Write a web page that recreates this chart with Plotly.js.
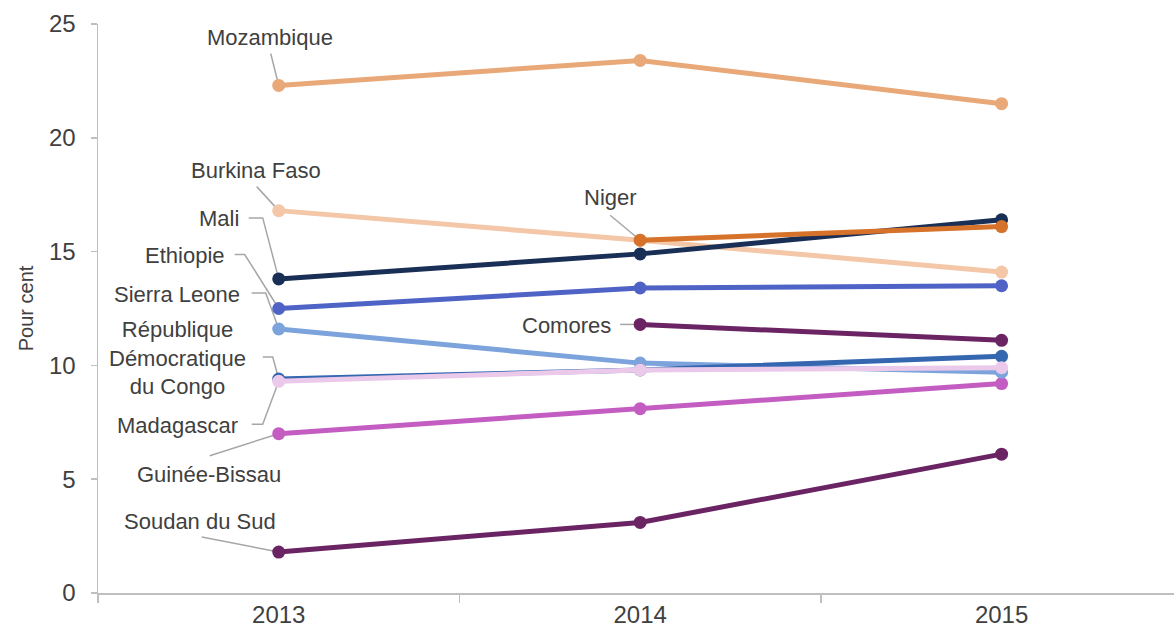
<!DOCTYPE html>
<html>
<head>
<meta charset="utf-8">
<script src="https://cdn.plot.ly/plotly-3.0.1.min.js"></script>
<style>html,body{margin:0;padding:0;background:#fff;}#chart{width:1174px;height:633px;}</style>
</head>
<body>
<div id="chart"></div>
<script>
const years = ["2013", "2014", "2015"];

const mozambique = [22.3, 23.4, 21.5];
const burkinaFaso = [16.8, 15.5, 14.1];
const mali = [13.8, 14.9, 16.4];
const niger = [null, 15.5, 16.1];
const ethiopie = [12.5, 13.4, 13.5];
const sierraLeone = [11.6, 10.1, 9.7];
const comores = [null, 11.8, 11.1];
const rdc = [9.4, 9.8, 10.4];
const madagascar = [9.3, 9.8, 9.9];
const guineeBissau = [7.0, 8.1, 9.2];
const soudanDuSud = [1.8, 3.1, 6.1];

const yTicks = [0, 5, 10, 15, 20, 25];

// drawing order (bottom to top)
const series = [
  {name: "Soudan du Sud", y: soudanDuSud, color: "#6B2463"},
  {name: "Guinée-Bissau", y: guineeBissau, color: "#C45DC2"},
  {name: "Comores", y: comores, color: "#6B2463"},
  {name: "Sierra Leone", y: sierraLeone, color: "#7CA3DB"},
  {name: "République Démocratique du Congo", y: rdc, color: "#3566B0"},
  {name: "Madagascar", y: madagascar, color: "#EBC9EA"},
  {name: "Ethiopie", y: ethiopie, color: "#4F63C6"},
  {name: "Burkina Faso", y: burkinaFaso, color: "#F3C7A7"},
  {name: "Mali", y: mali, color: "#1A2F55"},
  {name: "Niger", y: niger, color: "#D6722A"},
  {name: "Mozambique", y: mozambique, color: "#E8A878"}
];

const traces = series.map(s => ({
  type: "scatter",
  mode: "lines+markers",
  x: years,
  y: s.y,
  name: s.name,
  line: {color: s.color, width: 5},
  marker: {color: s.color, size: 13},
  connectgaps: false,
  hoverinfo: "x+y+name"
}));

// label placement: text offset (px) from the labelled point, and leader path (px, y up) relative to the point
const labels = [
  {text: "Mozambique", data: mozambique, idx: 0, dx: -9, dy: 48, path: [[-8, 32], [0, 0]]},
  {text: "Burkina Faso", data: burkinaFaso, idx: 0, dx: -23, dy: 40, path: [[-22, 24], [0, 0]]},
  {text: "Mali", data: mali, idx: 0, dx: -60, dy: 60, path: [[-30, 61], [-16, 61], [0, 0]]},
  {text: "Ethiopie", data: ethiopie, idx: 0, dx: -94, dy: 53, path: [[-44, 54], [-34, 54], [0, 0]]},
  {text: "Sierra Leone", data: sierraLeone, idx: 0, dx: -102, dy: 34, path: [[-27, 36], [-13, 36], [0, 0]]},
  {text: "République<br>Démocratique<br>du Congo", data: rdc, idx: 0, dx: -101, dy: 21, path: [[-16, 22], [-6, 22], [0, 0]]},
  {text: "Madagascar", data: madagascar, idx: 0, dx: -101, dy: -44, path: [[-27, -43], [-16, -43], [0, 0]]},
  {text: "Guinée-Bissau", data: guineeBissau, idx: 0, dx: -70, dy: -41, path: [[-69, -22], [0, 0]]},
  {text: "Soudan du Sud", data: soudanDuSud, idx: 0, dx: -79, dy: 31, path: [[-77, 15], [0, 0]]},
  {text: "Niger", data: niger, idx: 1, dx: -30, dy: 43, path: [[-30, 25], [0, 0]]},
  {text: "Comores", data: comores, idx: 1, dx: -74, dy: -1, path: [[-20, 0], [0, 0]]}
];

const annotations = labels.map(l => ({
  xref: "x", yref: "y",
  x: l.idx, y: l.data[l.idx],
  xshift: l.dx, yshift: l.dy,
  text: l.text,
  showarrow: false,
  xanchor: "center", yanchor: "middle",
  align: "center",
  font: {family: "Liberation Sans, Arial, sans-serif", size: 22, color: "#404040"}
}));

const shapes = labels.map(l => ({
  type: "path",
  xref: "x", yref: "y",
  xsizemode: "pixel", ysizemode: "pixel",
  xanchor: l.idx, yanchor: l.data[l.idx],
  path: l.path.map((p, i) => (i === 0 ? "M" : "L") + p[0] + "," + p[1]).join(" "),
  line: {color: "#A6A6A6", width: 1.5},
  layer: "below"
}));

const layout = {
  width: 1174, height: 633,
  margin: {l: 98, r: 0, t: 24, b: 40, pad: 0},
  paper_bgcolor: "#fff", plot_bgcolor: "#fff",
  showlegend: false,
  font: {family: "Liberation Sans, Arial, sans-serif", color: "#404040"},
  xaxis: {
    type: "category",
    range: [-0.5, 2.477],
    showgrid: false, zeroline: false,
    showline: true, linecolor: "#BFBFBF", linewidth: 1.5,
    ticks: "outside", tickson: "boundaries", ticklen: 8, tickcolor: "#BFBFBF", tickwidth: 1.5,
    tickfont: {size: 24, color: "#404040"},
    fixedrange: true
  },
  yaxis: {
    range: [0, 25],
    tickvals: yTicks,
    ticktext: yTicks.map(String),
    showgrid: false, zeroline: false,
    showline: true, linecolor: "#BFBFBF", linewidth: 1.5,
    ticks: "outside", ticklen: 6, tickcolor: "#BFBFBF", tickwidth: 1.5,
    tickfont: {size: 24, color: "#404040"},
    ticklabelstandoff: 10,
    title: {text: "Pour cent", font: {size: 20, color: "#404040"}, standoff: 10},
    automargin: false,
    fixedrange: true
  },
  annotations: annotations,
  shapes: shapes
};

Plotly.newPlot("chart", traces, layout, {displayModeBar: false, staticPlot: true});
</script>
</body>
</html>
